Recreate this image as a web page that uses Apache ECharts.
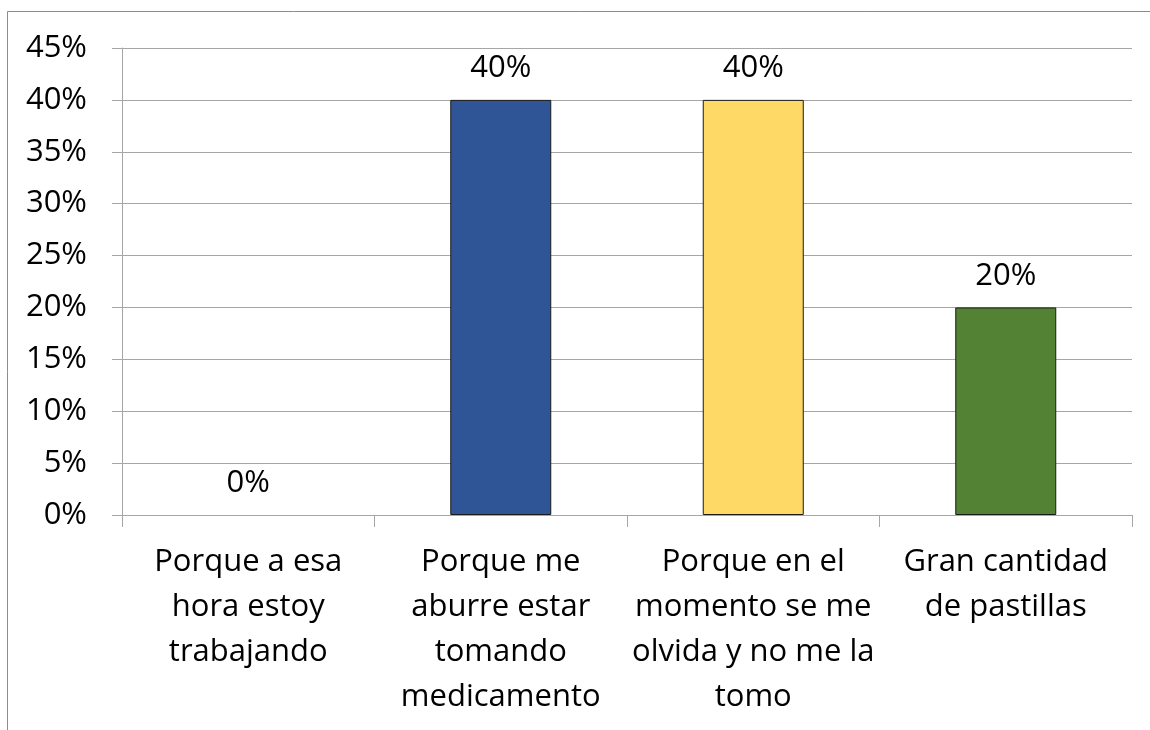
<!DOCTYPE html>
<html><head><meta charset="utf-8">
<script src="https://cdn.jsdelivr.net/npm/echarts@6/dist/echarts.min.js"></script>
<style>html,body{margin:0;padding:0;background:#fff}#c{width:1150px;height:730px}</style>
</head><body><div id="c"></div>
<script>
const categories = [
  "Porque a esa\nhora estoy\ntrabajando",
  "Porque me\naburre estar\ntomando\nmedicamento",
  "Porque en el\nmomento se me\nolvida y no me la\ntomo",
  "Gran cantidad\nde pastillas"
];
const values = [0, 40, 40, 20];
const barColors = ["#4472C4", "#2F5597", "#FFD966", "#548235"];
const yTicks = { min: 0, max: 45, interval: 5 };

const FONT = "Open Sans";
const chart = echarts.init(document.getElementById('c'), null, { renderer: 'canvas' });
chart.setOption({
  animation: false,
  backgroundColor: '#fff',
  textStyle: { fontFamily: FONT },
  graphic: [{
    type: 'rect', shape: { x: 7.5, y: 11.5, width: 1160, height: 740 },
    style: { fill: 'none', stroke: '#8c8c8c', lineWidth: 1 }, silent: true, z: -1
  }],
  grid: { left: 122, right: 18, top: 48, bottom: 215, containLabel: false },
  xAxis: {
    type: 'category', data: categories,
    axisLine: { lineStyle: { color: '#a6a6a6', width: 1 } },
    axisTick: { show: true, length: 12, alignWithLabel: false, lineStyle: { color: '#a6a6a6' } },
    axisLabel: { interval: 0, color: '#000', fontSize: 31, lineHeight: 45, margin: 25, fontFamily: FONT },
    splitLine: { show: false }
  },
  yAxis: {
    type: 'value', min: yTicks.min, max: yTicks.max, interval: yTicks.interval,
    axisLine: { show: true, lineStyle: { color: '#a6a6a6', width: 1 } },
    axisTick: { show: true, length: 10, lineStyle: { color: '#a6a6a6' } },
    axisLabel: { formatter: '{value}%', color: '#000', fontSize: 31, margin: 35, fontFamily: FONT },
    splitLine: { show: true, lineStyle: { color: '#a6a6a6', width: 1 } }
  },
  series: [{
    type: 'bar',
    data: values.map((v, i) => ({ value: v, itemStyle: { color: barColors[i], borderWidth: v === 0 ? 0 : 1 } })),
    barCategoryGap: '60%',
    itemStyle: { borderColor: '#1a1a1a', borderWidth: 1 },
    label: { show: true, position: 'top', distance: 16, formatter: '{c}%', color: '#000', fontSize: 31, fontFamily: FONT }
  }]
});
</script></body></html>
